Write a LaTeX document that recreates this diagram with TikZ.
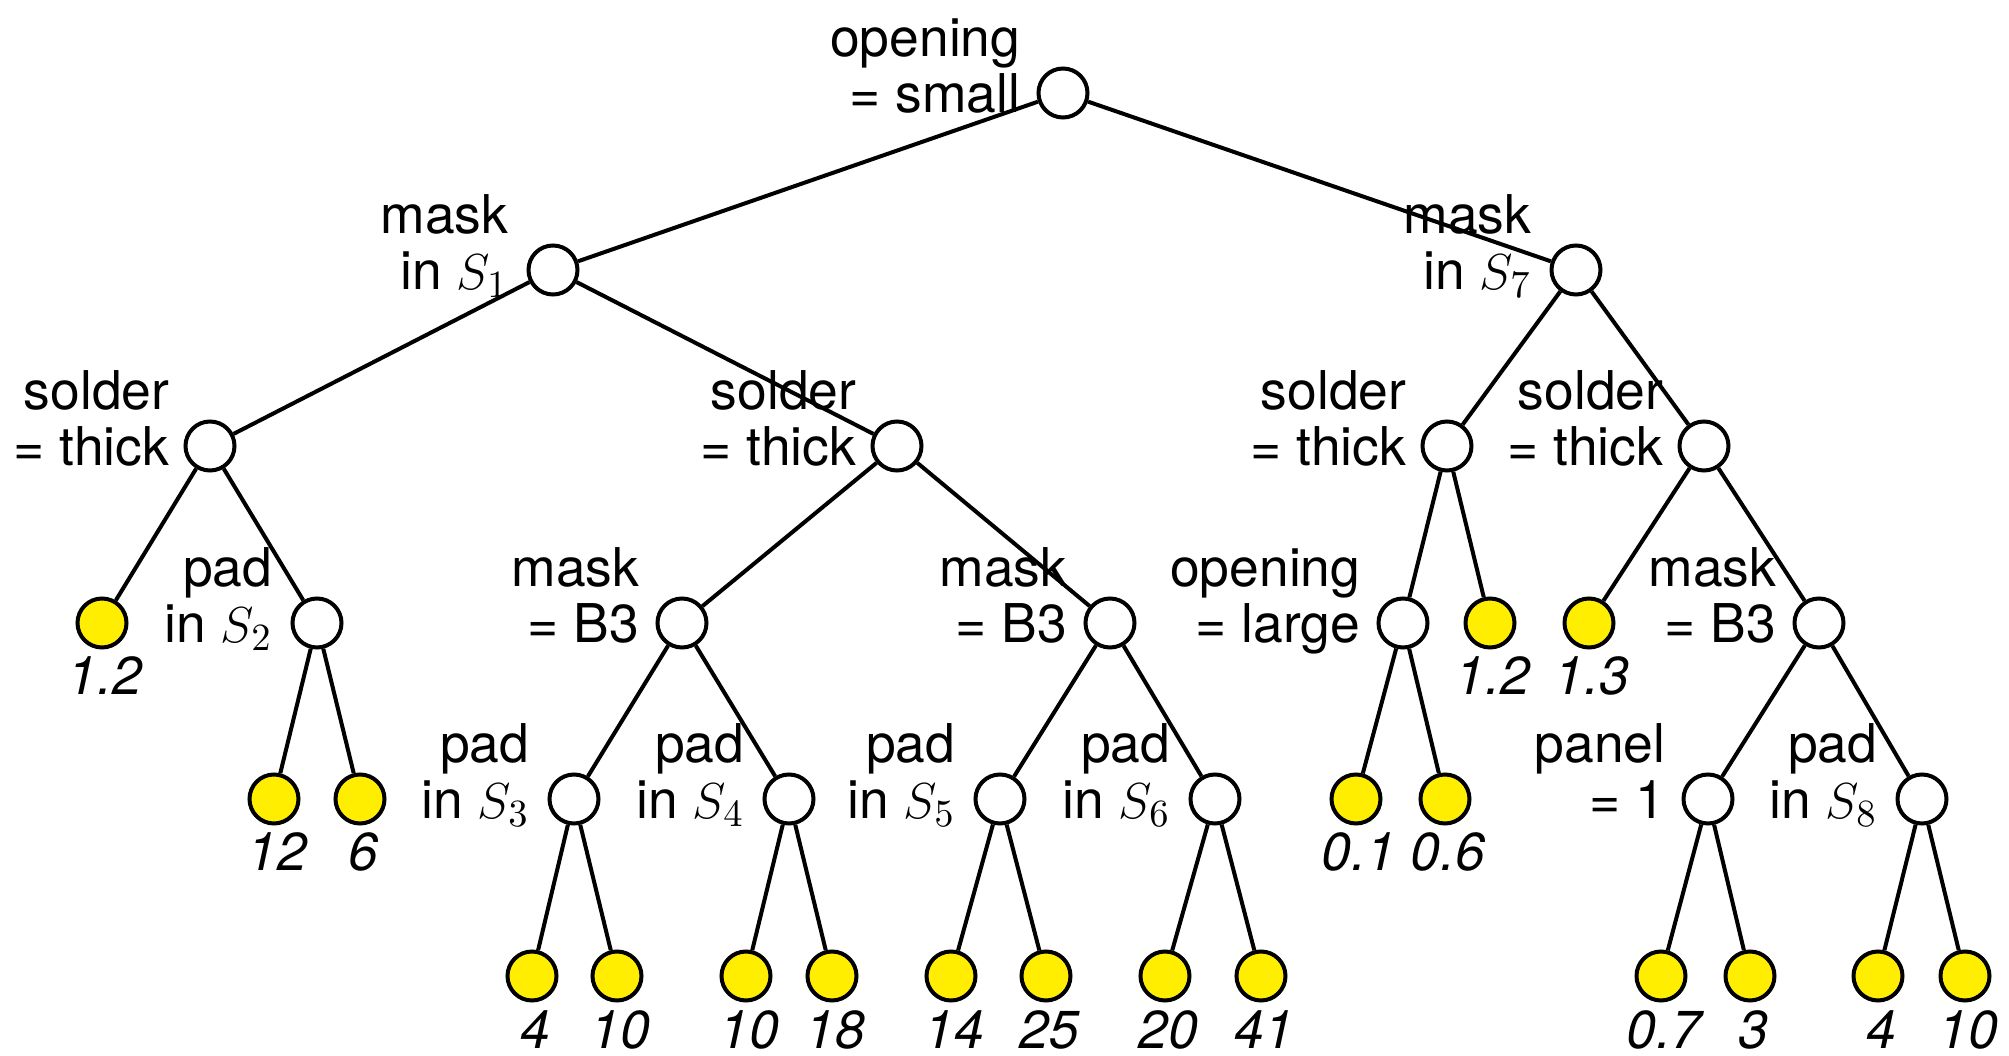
\documentclass[tikz,border=0pt]{standalone}
\usepackage{fontspec}
\setmainfont{TeX Gyre Heros}
\usetikzlibrary{calc}

\definecolor{leafyellow}{RGB}{255,238,0}

% two-line test label, right aligned, baseline on the lower line
\newcommand\condtext[2]{\begin{tabular}[b]{@{}r@{}}#1\\#2\end{tabular}}

\tikzset{
  test/.style={circle, draw, fill=white, line width=0.4mm, minimum size=4.9mm, inner sep=0pt},
  leaf/.style={circle, draw, fill=leafyellow, line width=0.4mm, minimum size=4.9mm, inner sep=0pt},
  branch/.style={line width=0.4mm},
  cond/.style={font=\fontsize{15.2}{16.2}\selectfont, inner sep=0pt, anchor=base east},
  val/.style={font=\fontsize{15.2}{18}\selectfont\itshape, inner sep=0pt, anchor=base},
}

\begin{document}
\begin{tikzpicture}[x=0.1mm, y=-0.1mm]
\useasboundingbox (0,0) rectangle (2009,1056);

% ---- test nodes ----
\node[test] (n0)  at (1063,93)  {};
\node[test] (n1)  at (553,270)  {};
\node[test] (n2)  at (1576,270) {};
\node[test] (n3)  at (210,446)  {};
\node[test] (n4)  at (897,446)  {};
\node[test] (n5)  at (1447,446) {};
\node[test] (n6)  at (1704,446) {};
\node[test] (n7)  at (317,623)  {};
\node[test] (n8)  at (682,623)  {};
\node[test] (n9)  at (1110,623) {};
\node[test] (n10) at (1403,623) {};
\node[test] (n11) at (1819,623) {};
\node[test] (n12) at (574,799)  {};
\node[test] (n13) at (789,799)  {};
\node[test] (n14) at (1000,799) {};
\node[test] (n15) at (1215,799) {};
\node[test] (n16) at (1708,799) {};
\node[test] (n17) at (1922,799) {};

% ---- leaves ----
\node[leaf] (l1)  at (102,623)  {};
\node[leaf] (l2)  at (1490,623) {};
\node[leaf] (l3)  at (1589,623) {};
\node[leaf] (l4)  at (274,799)  {};
\node[leaf] (l5)  at (360,799)  {};
\node[leaf] (l6)  at (1356,799) {};
\node[leaf] (l7)  at (1445,799) {};
\node[leaf] (l8)  at (532,976)  {};
\node[leaf] (l9)  at (617,976)  {};
\node[leaf] (l10) at (746,976)  {};
\node[leaf] (l11) at (832,976)  {};
\node[leaf] (l12) at (951,976)  {};
\node[leaf] (l13) at (1046,976) {};
\node[leaf] (l14) at (1165,976) {};
\node[leaf] (l15) at (1261,976) {};
\node[leaf] (l16) at (1661,976) {};
\node[leaf] (l17) at (1750,976) {};
\node[leaf] (l18) at (1878,976) {};
\node[leaf] (l19) at (1965,976) {};

% ---- branches ----
\foreach \a/\b in {n0/n1, n0/n2, n1/n3, n1/n4, n2/n5, n2/n6,
                   n3/l1, n3/n7, n7/l4, n7/l5,
                   n4/n8, n4/n9, n8/n12, n8/n13, n9/n14, n9/n15,
                   n12/l8, n12/l9, n13/l10, n13/l11, n14/l12, n14/l13, n15/l14, n15/l15,
                   n5/n10, n5/l2, n10/l6, n10/l7,
                   n6/l3, n6/n11, n11/n16, n11/n17,
                   n16/l16, n16/l17, n17/l18, n17/l19}
  \draw[branch] (\a) -- (\b);

% ---- test labels ----
\node[cond] (c0)  at ($(n0)+(-42,20)$)  {\condtext{opening}{= small}};
\node[cond] (c1)  at ($(n1)+(-44,20)$)  {\condtext{mask}{in $S_1$}};
\node[cond] (c2)  at ($(n2)+(-44,20)$)  {\condtext{mask}{in $S_7$}};
\node[cond] (c3)  at ($(n3)+(-40,20)$)  {\condtext{solder}{= thick}};
\node[cond] (c4)  at ($(n4)+(-40,20)$)  {\condtext{solder}{= thick}};
\node[cond] (c5)  at ($(n5)+(-40,20)$)  {\condtext{solder}{= thick}};
\node[cond] (c6)  at ($(n6)+(-40,20)$)  {\condtext{solder}{= thick}};
\node[cond] (c7)  at ($(n7)+(-44,20)$)  {\condtext{pad}{in $S_2$}};
\node[cond] (c8)  at ($(n8)+(-42,20)$)  {\condtext{mask}{= B3}};
\node[cond] (c9)  at ($(n9)+(-42,20)$)  {\condtext{mask}{= B3}};
\node[cond] (c10) at ($(n10)+(-42,20)$) {\condtext{opening}{= large}};
\node[cond] (c11) at ($(n11)+(-42,20)$) {\condtext{mask}{= B3}};
\node[cond] (c12) at ($(n12)+(-44,20)$) {\condtext{pad}{in $S_3$}};
\node[cond] (c13) at ($(n13)+(-44,20)$) {\condtext{pad}{in $S_4$}};
\node[cond] (c14) at ($(n14)+(-44,20)$) {\condtext{pad}{in $S_5$}};
\node[cond] (c15) at ($(n15)+(-44,20)$) {\condtext{pad}{in $S_6$}};
\node[cond] (c16) at ($(n16)+(-42,20)$) {\condtext{panel}{= 1}};
\node[cond] (c17) at ($(n17)+(-44,20)$) {\condtext{pad}{in $S_8$}};

% ---- leaf values ----
\foreach \l/\v in {l1/1.2, l2/1.2, l3/1.3, l4/12, l5/6, l6/0.1, l7/0.6,
                   l8/4, l9/10, l10/10, l11/18, l12/14, l13/25, l14/20, l15/41,
                   l16/0.7, l17/3, l18/4, l19/10}
  \node[val] (v\l) at ($(\l)+(3,72)$) {\v};
\end{tikzpicture}
\end{document}
